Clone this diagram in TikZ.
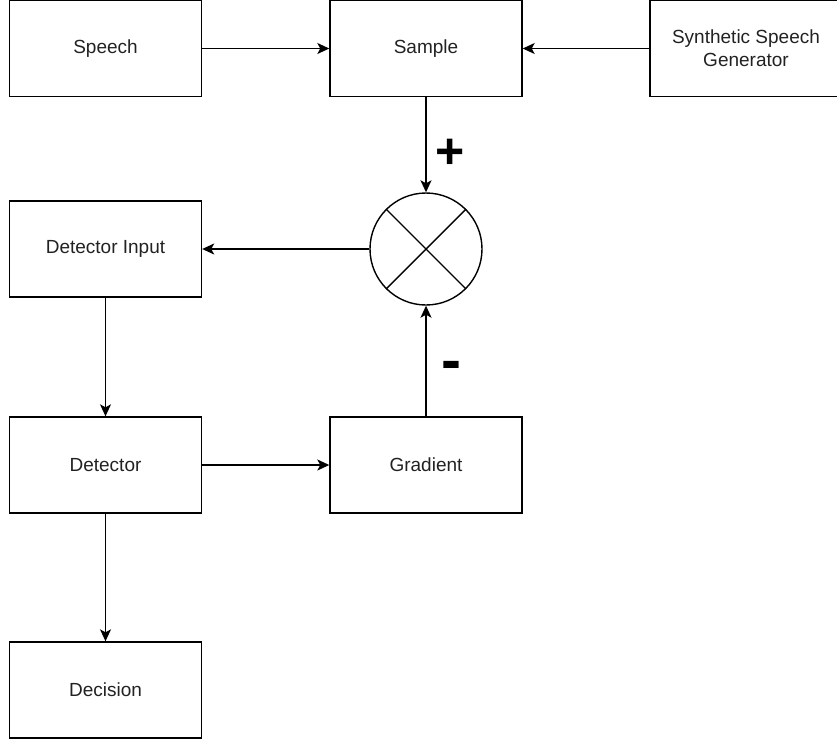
\documentclass[tikz,border=0pt]{standalone}
\usepackage{fontspec}
\setmainfont{Liberation Sans}
\usetikzlibrary{arrows.meta}
\definecolor{txt}{HTML}{222222}
\begin{document}
\begin{tikzpicture}[x=1pt,y=-1pt,
  blk/.style={draw, line width=1.4pt, minimum width=192pt, minimum height=96pt, inner sep=0pt, align=center, text=txt, font=\fontsize{19}{23}\selectfont},
  conn/.style={line width=1.4pt, -{Stealth[length=12pt,width=11pt,inset=3pt]}},
  sign/.style={font=\fontsize{50}{50}\selectfont\bfseries, inner sep=0pt, anchor=base}]
\useasboundingbox (0,0) rectangle (837,740);
\node[blk] (speech) at (105.5,48.5) {Speech};
\node[blk] (sample) at (426,48.5) {Sample};
\node[blk] (synth) at (746,48.5) {Synthetic Speech\\Generator};
\node[draw, circle, line width=1.4pt, minimum size=112pt, inner sep=0pt] (sum) at (426,249) {};
\draw[line width=1.4pt] (sum.north west) -- (sum.south east) (sum.north east) -- (sum.south west);
\node[blk] (dinput) at (105.5,249) {Detector Input};
\node[blk] (detector) at (105.5,465) {Detector};
\node[blk] (gradient) at (426,465) {Gradient};
\node[blk] (decision) at (105.5,690) {Decision};
\node[sign] (plus) at (450,168.5) {+};
\node[sign, font=\fontsize{60}{60}\selectfont\bfseries] (minus) at (451,380) {-};
\draw[conn] (speech) -- (sample);
\draw[conn] (synth) -- (sample);
\draw[conn] (sample) -- (sum);
\draw[conn] (gradient) -- (sum);
\draw[conn] (sum) -- (dinput);
\draw[conn] (dinput) -- (detector);
\draw[conn] (detector) -- (gradient);
\draw[conn] (detector) -- (decision);
\end{tikzpicture}
\end{document}
